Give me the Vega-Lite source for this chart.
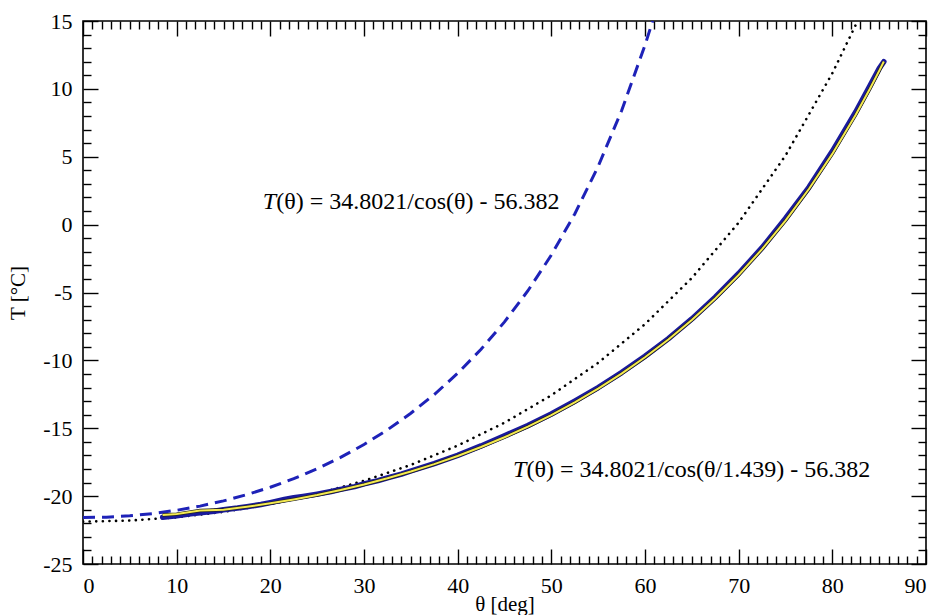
{
  "$schema": "https://vega.github.io/schema/vega-lite/v6.json",
  "width": 843,
  "height": 543,
  "autosize": {"type": "none"},
  "padding": {"left": 83, "top": 21, "right": 12, "bottom": 51},
  "background": "white",
  "config": {
    "view": {"stroke": "black", "strokeWidth": 1.6},
    "axis": {"grid": false, "domain": false, "tickColor": "black", "tickWidth": 1.4, "labelFont": "Liberation Serif", "labelFontSize": 22, "labelColor": "black", "labelOverlap": false, "titleFont": "Liberation Serif", "titleFontSize": 21, "titleFontWeight": "normal", "titleColor": "black"}
  },
  "datasets": {
    "dashed": [
      {"theta": 0, "T": -21.58}, {"theta": 2.5, "T": -21.547}, {"theta": 5, "T": -21.447}, {"theta": 7.5, "T": -21.28},
      {"theta": 10, "T": -21.043}, {"theta": 12.5, "T": -20.735}, {"theta": 15, "T": -20.352}, {"theta": 17.5, "T": -19.891},
      {"theta": 20, "T": -19.346}, {"theta": 22.5, "T": -18.712}, {"theta": 25, "T": -17.982}, {"theta": 27.5, "T": -17.147},
      {"theta": 30, "T": -16.196}, {"theta": 32.5, "T": -15.118}, {"theta": 35, "T": -13.896}, {"theta": 37.5, "T": -12.515},
      {"theta": 40, "T": -10.951}, {"theta": 42.5, "T": -9.179}, {"theta": 45, "T": -7.165}, {"theta": 47.5, "T": -4.869},
      {"theta": 50, "T": -2.24}, {"theta": 52.5, "T": 0.787}, {"theta": 55, "T": 4.294}, {"theta": 57.5, "T": 8.39},
      {"theta": 60, "T": 13.222}, {"theta": 60.82, "T": 15.0}
    ],
    "dotted": [
      {"theta": 0, "T": -21.88}, {"theta": 5, "T": -21.8}, {"theta": 10, "T": -21.56}, {"theta": 15, "T": -21.16},
      {"theta": 20, "T": -20.59}, {"theta": 25, "T": -19.83}, {"theta": 30, "T": -18.87}, {"theta": 35, "T": -17.7},
      {"theta": 40, "T": -16.28}, {"theta": 45, "T": -14.59}, {"theta": 50, "T": -12.57}, {"theta": 55, "T": -10.18},
      {"theta": 60, "T": -7.33}, {"theta": 65, "T": -3.93}, {"theta": 70, "T": 0.15}, {"theta": 75, "T": 5.09},
      {"theta": 80, "T": 11.15}, {"theta": 82.7, "T": 15.0}
    ],
    "measured": [
      {"theta": 8.5, "T": -21.55}, {"theta": 10, "T": -21.45}, {"theta": 11.5, "T": -21.3}, {"theta": 12.5, "T": -21.22},
      {"theta": 14, "T": -21.12}, {"theta": 15, "T": -21.0}, {"theta": 16.5, "T": -20.88}, {"theta": 17.5, "T": -20.78},
      {"theta": 19, "T": -20.62}, {"theta": 20, "T": -20.48}, {"theta": 21.5, "T": -20.25}, {"theta": 22.5, "T": -20.12},
      {"theta": 23.5, "T": -20.02}, {"theta": 25, "T": -19.85}, {"theta": 26.5, "T": -19.66}, {"theta": 27.5, "T": -19.5},
      {"theta": 29, "T": -19.3}, {"theta": 30, "T": -19.1}, {"theta": 31.5, "T": -18.86}, {"theta": 32.5, "T": -18.65},
      {"theta": 34, "T": -18.38}, {"theta": 35, "T": -18.15}, {"theta": 37.5, "T": -17.6}, {"theta": 40, "T": -17.0},
      {"theta": 42.5, "T": -16.3}, {"theta": 45, "T": -15.55}, {"theta": 47.5, "T": -14.8}, {"theta": 50, "T": -13.95},
      {"theta": 52.5, "T": -13.0}, {"theta": 55, "T": -12.0}, {"theta": 57.5, "T": -10.9}, {"theta": 60, "T": -9.7},
      {"theta": 62.5, "T": -8.4}, {"theta": 65, "T": -6.95}, {"theta": 67.5, "T": -5.35}, {"theta": 70, "T": -3.6},
      {"theta": 72.5, "T": -1.7}, {"theta": 75, "T": 0.45}, {"theta": 77.5, "T": 2.75}, {"theta": 80, "T": 5.4},
      {"theta": 82.5, "T": 8.3}, {"theta": 84, "T": 10.2}, {"theta": 85, "T": 11.5}, {"theta": 85.5, "T": 12.0}
    ],
    "fit": [
      {"theta": 8.5, "T": -21.394}, {"theta": 10, "T": -21.322}, {"theta": 12.5, "T": -21.062}, {"theta": 15, "T": -20.997},
      {"theta": 17.5, "T": -20.781}, {"theta": 20, "T": -20.531}, {"theta": 22.5, "T": -20.242}, {"theta": 25, "T": -19.917},
      {"theta": 27.5, "T": -19.551}, {"theta": 30, "T": -19.142}, {"theta": 32.5, "T": -18.689}, {"theta": 35, "T": -18.191},
      {"theta": 37.5, "T": -17.641}, {"theta": 40, "T": -17.04}, {"theta": 42.5, "T": -16.383}, {"theta": 45, "T": -15.665},
      {"theta": 47.5, "T": -14.881}, {"theta": 50, "T": -14.028}, {"theta": 52.5, "T": -13.097}, {"theta": 55, "T": -12.084},
      {"theta": 57.5, "T": -10.979}, {"theta": 60, "T": -9.774}, {"theta": 62.5, "T": -8.457}, {"theta": 65, "T": -7.018},
      {"theta": 67.5, "T": -5.44}, {"theta": 70, "T": -3.709}, {"theta": 72.5, "T": -1.805}, {"theta": 75, "T": 0.298},
      {"theta": 77.5, "T": 2.624}, {"theta": 80, "T": 5.208}, {"theta": 82.5, "T": 8.094}, {"theta": 84, "T": 9.986},
      {"theta": 85, "T": 11.325}, {"theta": 85.5, "T": 12.016}
    ],
    "labelsT": [
      {"theta": 19.2, "T": 1.67, "text": "T"},
      {"theta": 45.9, "T": -18.08, "text": "T"}
    ],
    "labelsRest": [
      {"theta": 19.2, "T": 1.67, "text": "(θ) = 34.8021/cos(θ) - 56.382"},
      {"theta": 45.9, "T": -18.08, "text": "(θ) = 34.8021/cos(θ/1.439) - 56.382"}
    ]
  },
  "resolve": {"axis": {"x": "independent", "y": "independent"}},
  "layer": [
    {
      "data": {"name": "dashed"},
      "mark": {"type": "line", "color": "#1e22b8", "strokeWidth": 3, "strokeDash": [12, 7], "clip": true},
      "encoding": {
        "x": {"field": "theta", "type": "quantitative", "scale": {"domain": [0, 90], "nice": false, "zero": false},
          "axis": {"orient": "bottom", "title": "θ  [deg]", "titlePadding": -10,
            "values": [0,1,2,3,4,5,6,7,8,9,10,11,12,13,14,15,16,17,18,19,20,21,22,23,24,25,26,27,28,29,30,31,32,33,34,35,36,37,38,39,40,41,42,43,44,45,46,47,48,49,50,51,52,53,54,55,56,57,58,59,60,61,62,63,64,65,66,67,68,69,70,71,72,73,74,75,76,77,78,79,80,81,82,83,84,85,86,87,88,89,90],
            "labelExpr": "datum.value % 10 === 0 ? '' + datum.value : ''",
            "tickSize": {"condition": {"test": "datum.value % 10 === 0", "value": -15}, "value": -8},
            "labelPadding": 26}},
        "y": {"field": "T", "type": "quantitative", "scale": {"domain": [-25, 15], "nice": false, "zero": false},
          "axis": {"orient": "left", "title": "T [°C]", "titlePadding": 14,
            "values": [-25,-24,-23,-22,-21,-20,-19,-18,-17,-16,-15,-14,-13,-12,-11,-10,-9,-8,-7,-6,-5,-4,-3,-2,-1,0,1,2,3,4,5,6,7,8,9,10,11,12,13,14,15],
            "labelExpr": "datum.value % 5 === 0 ? '' + datum.value : ''",
            "tickSize": {"condition": {"test": "datum.value % 5 === 0", "value": -15}, "value": -8},
            "labelPadding": 26}}
      }
    },
    {
      "data": {"name": "dotted"},
      "mark": {"type": "line", "color": "black", "strokeWidth": 2.6, "strokeDash": [0.1, 6.5], "strokeCap": "round", "clip": true},
      "encoding": {
        "x": {"field": "theta", "type": "quantitative",
          "axis": {"orient": "top", "title": null, "labels": false,
            "values": [0,1,2,3,4,5,6,7,8,9,10,11,12,13,14,15,16,17,18,19,20,21,22,23,24,25,26,27,28,29,30,31,32,33,34,35,36,37,38,39,40,41,42,43,44,45,46,47,48,49,50,51,52,53,54,55,56,57,58,59,60,61,62,63,64,65,66,67,68,69,70,71,72,73,74,75,76,77,78,79,80,81,82,83,84,85,86,87,88,89,90],
            "tickSize": {"condition": {"test": "datum.value % 10 === 0", "value": -15}, "value": -8}}},
        "y": {"field": "T", "type": "quantitative",
          "axis": {"orient": "right", "title": null, "labels": false,
            "values": [-25,-24,-23,-22,-21,-20,-19,-18,-17,-16,-15,-14,-13,-12,-11,-10,-9,-8,-7,-6,-5,-4,-3,-2,-1,0,1,2,3,4,5,6,7,8,9,10,11,12,13,14,15],
            "tickSize": {"condition": {"test": "datum.value % 5 === 0", "value": -15}, "value": -8}}}
      }
    },
    {
      "data": {"name": "measured"},
      "mark": {"type": "line", "color": "#1a1a9c", "strokeWidth": 5.5, "strokeCap": "round", "strokeJoin": "round", "clip": true},
      "encoding": {
        "x": {"field": "theta", "type": "quantitative", "axis": null},
        "y": {"field": "T", "type": "quantitative", "axis": null}
      }
    },
    {
      "data": {"name": "fit"},
      "mark": {"type": "line", "color": "#222222", "strokeWidth": 3.4, "clip": true},
      "encoding": {
        "x": {"field": "theta", "type": "quantitative", "axis": null},
        "y": {"field": "T", "type": "quantitative", "axis": null}
      }
    },
    {
      "data": {"name": "fit"},
      "mark": {"type": "line", "color": "#f4ea50", "strokeWidth": 2, "clip": true},
      "encoding": {
        "x": {"field": "theta", "type": "quantitative", "axis": null},
        "y": {"field": "T", "type": "quantitative", "axis": null}
      }
    },
    {
      "data": {"name": "labelsT"},
      "mark": {"type": "text", "font": "Liberation Serif", "fontSize": 24, "fontStyle": "italic", "align": "left", "baseline": "middle", "color": "black"},
      "encoding": {
        "x": {"field": "theta", "type": "quantitative", "axis": null},
        "y": {"field": "T", "type": "quantitative", "axis": null},
        "text": {"field": "text"}
      }
    },
    {
      "data": {"name": "labelsRest"},
      "mark": {"type": "text", "font": "Liberation Serif", "fontSize": 24, "align": "left", "baseline": "middle", "dx": 13.5, "color": "black"},
      "encoding": {
        "x": {"field": "theta", "type": "quantitative", "axis": null},
        "y": {"field": "T", "type": "quantitative", "axis": null},
        "text": {"field": "text"}
      }
    }
  ]
}
